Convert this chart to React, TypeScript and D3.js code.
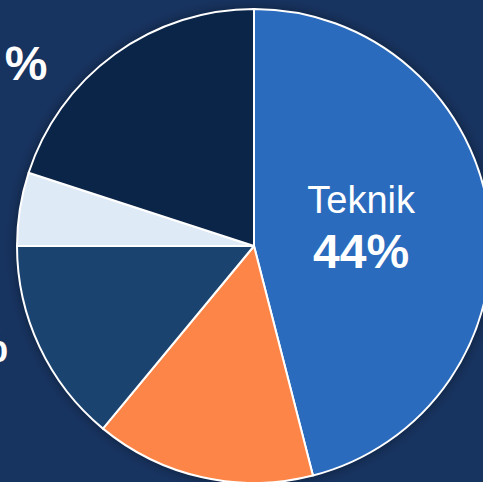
import React from "react";
import * as d3 from "d3";

const categories = ["Teknik", "Ekonomi", "Vård", "Övrigt", "Samhälle"];
const values = [46, 15, 14, 5, 20];
const valueLabels = ["44%", "15%", "14%", "5%", "20%"];
const colors = ["#2a6bbd", "#fd8547", "#1a4370", "#deebf7", "#0b2548"];
const visibleOuterLabels = ["Vård", "Samhälle"];

const W = 483;
const H = 482;

export default function App() {
  const cx = 254;
  const cy = 246;
  const r = 237;
  const data = categories.map((c, i) => ({ name: c, value: values[i], label: valueLabels[i], color: colors[i] }));
  const pie = d3.pie<any>().value((d) => d.value).sort(null);
  const arcs = pie(data);
  const arc = d3.arc<any>().innerRadius(0).outerRadius(r);
  const inner = d3.arc<any>().innerRadius(108).outerRadius(108);
  const angleShift: Record<string, number> = { Samhälle: -0.265 };
  const radiusFor: Record<string, number> = { Samhälle: 265, Vård: 272 };
  return (
    <svg width={W} height={H} style={{ position: "fixed", left: 0, top: 0, background: "#17335f" }}>
      <defs>
        <filter id="sh" x="-20%" y="-20%" width="140%" height="140%">
          <feDropShadow dx="0" dy="0" stdDeviation="6" floodColor="#000" floodOpacity="0.45" />
        </filter>
      </defs>
      <rect width={W} height={H} fill="#17335f" />
      <g transform={`translate(${cx},${cy})`}>
        <circle r={r} fill="#0b2548" filter="url(#sh)" />
        {arcs.map((a, i) => (
          <path key={i} d={arc(a) as string} fill={a.data.color} stroke="#fff" strokeWidth={2} strokeLinejoin="round" />
        ))}
        {arcs.map((a, i) => {
          if (a.data.name === "Teknik") {
            const [x, y] = inner.centroid(a);
            return (
              <g key={i} fontFamily="Liberation Sans, Arial, sans-serif" fill="#fff" textAnchor="middle">
                <text x={x} y={y - 19} fontSize={38}>{a.data.name}</text>
                <text x={x} y={y + 36} fontSize={48} fontWeight="bold">{a.data.label}</text>
              </g>
            );
          }
          if (!visibleOuterLabels.includes(a.data.name)) return null;
          const mid = (a.startAngle + a.endAngle) / 2 + (angleShift[a.data.name] || 0);
          const rr = radiusFor[a.data.name] || 268;
          const x = rr * Math.sin(mid);
          const y = -rr * Math.cos(mid);
          const num = a.data.label.replace("%", "");
          return (
            <text key={i} x={x} y={y} fontSize={48} fontWeight="bold" fill="#fff" textAnchor="end"
              fontFamily="Liberation Sans, Arial, sans-serif">{num}<tspan dx={6}>%</tspan></text>
          );
        })}
      </g>
    </svg>
  );
}
